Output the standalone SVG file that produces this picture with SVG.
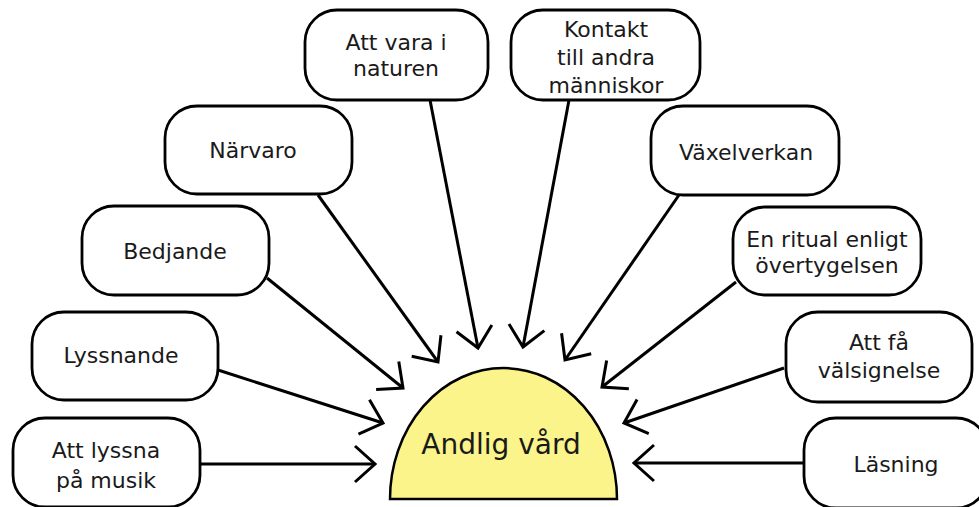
<svg xmlns="http://www.w3.org/2000/svg" width="979" height="507" viewBox="0 0 979 507">
<defs>
<style>
.box{fill:#fff;stroke:#000;stroke-width:2.8}
.lbl{font-family:"DejaVu Sans",Verdana,sans-serif;font-size:22px;fill:#1a1a1a;text-anchor:middle}
.conn line{stroke:#000;stroke-width:3;marker-end:url(#arr)}
</style>
<marker id="arr" markerUnits="userSpaceOnUse" viewBox="-24 -22 28 44" markerWidth="28" markerHeight="44" refX="0" refY="0" orient="auto">
<path d="M-20,-18 L0,0 L-20,18" fill="none" stroke="#000" stroke-width="3"/>
</marker>
</defs>
<rect width="979" height="507" fill="#fff"/>
<g id="center">
<path d="M390,499 A113.5,131 0 0 1 617,499 Z" fill="#faf48a" stroke="#000" stroke-width="2.5"/>
<text x="501" y="454" class="lbl" style="font-size:28px">Andlig vård</text>
</g>
<g class="conn" id="connectors">
<line x1="200" y1="464" x2="375" y2="464"/>
<line x1="218" y1="370" x2="383" y2="423"/>
<line x1="267" y1="278" x2="403" y2="388"/>
<line x1="318" y1="195" x2="438" y2="362"/>
<line x1="430" y1="100" x2="478" y2="348"/>
<line x1="569" y1="100" x2="523" y2="347"/>
<line x1="679" y1="195" x2="565" y2="360"/>
<line x1="736" y1="282" x2="602" y2="387"/>
<line x1="784" y1="368" x2="624" y2="423"/>
<line x1="804" y1="463" x2="634" y2="463"/>
</g>
<g id="n-natur"><rect class="box" x="305" y="10" width="183" height="90" rx="32"/><text class="lbl" x="396" y="50">Att vara i</text><text class="lbl" x="396" y="76">naturen</text></g>
<g id="n-kontakt"><rect class="box" x="511" y="10" width="189" height="90" rx="32"/><text class="lbl" x="606" y="37">Kontakt</text><text class="lbl" x="606" y="65">till andra</text><text class="lbl" x="606" y="93">människor</text></g>
<g id="n-narvaro"><rect class="box" x="165" y="106" width="187" height="88" rx="32"/><text class="lbl" x="253" y="158">Närvaro</text></g>
<g id="n-vaxel"><rect class="box" x="651" y="106" width="188" height="89" rx="32"/><text class="lbl" x="746" y="160">Växelverkan</text></g>
<g id="n-bedjande"><rect class="box" x="82" y="206" width="187" height="89" rx="32"/><text class="lbl" x="175" y="259">Bedjande</text></g>
<g id="n-ritual"><rect class="box" x="733" y="207" width="188" height="88" rx="32"/><text class="lbl" x="827" y="247">En ritual enligt</text><text class="lbl" x="827" y="273">övertygelsen</text></g>
<g id="n-lyssnande"><rect class="box" x="32" y="312" width="186" height="88" rx="32"/><text class="lbl" x="121" y="363">Lyssnande</text></g>
<g id="n-valsign"><rect class="box" x="786" y="312" width="186" height="90" rx="32"/><text class="lbl" x="879" y="350">Att få</text><text class="lbl" x="879" y="378">välsignelse</text></g>
<g id="n-musik"><rect class="box" x="13" y="418" width="187" height="89" rx="32"/><text class="lbl" x="106" y="458">Att lyssna</text><text class="lbl" x="106" y="488">på musik</text></g>
<g id="n-lasning"><rect class="box" x="804" y="418" width="184" height="90" rx="32"/><text class="lbl" x="896" y="472">Läsning</text></g>
</svg>
